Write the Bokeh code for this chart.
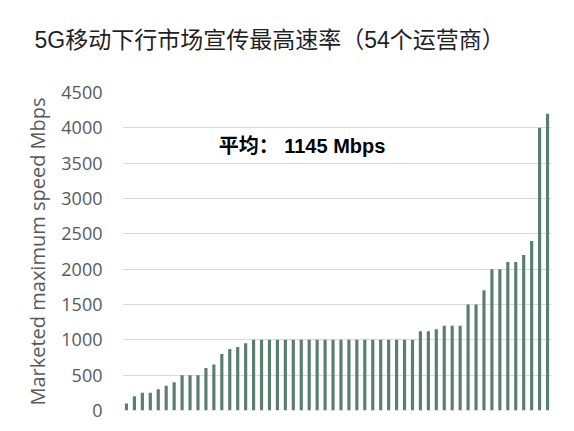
from bokeh.plotting import figure
from bokeh.models import Label, Range1d, FixedTicker, ColumnDataSource, Title
from bokeh.embed import file_html
from bokeh.resources import INLINE

title_text = "5G移动下行市场宣传最高速率（54个运营商）"
y_label = "Marketed maximum speed Mbps"
avg_text = "平均：  1145 Mbps"
y_ticks = [0, 500, 1000, 1500, 2000, 2500, 3000, 3500, 4000, 4500]

operators = list(range(1, 55))
speeds = [100, 200, 250, 250, 300, 350, 400, 500, 500, 500,
          600, 650, 800, 870, 900, 950,
          1000, 1000, 1000, 1000, 1000, 1000, 1000, 1000, 1000, 1000,
          1000, 1000, 1000, 1000, 1000, 1000, 1000, 1000, 1000, 1000, 1000,
          1120, 1120, 1150, 1200, 1200, 1200, 1500, 1500, 1700,
          2000, 2000, 2100, 2100, 2200, 2400, 4000, 4200]

src = ColumnDataSource(dict(x=operators, top=speeds))

p = figure(width=566, height=423, output_backend="svg", toolbar_location=None,
           x_range=Range1d(0.5, 54.5), y_range=Range1d(0, 4500),
           min_border_left=122, min_border_right=15, min_border_top=92,
           min_border_bottom=13)
p.outline_line_color = None
p.background_fill_color = "white"
p.border_fill_color = "white"

p.add_layout(Title(text=" ", text_font_size="21px"), "above")

p.title.text = title_text
p.title.align = "left"
p.title.offset = -88
p.title.text_font = "Liberation Sans, 'Noto Sans CJK SC'"
p.title.text_font_size = "23px"
p.title.text_font_style = "normal"
p.title.text_color = "#1f1f1f"

p.vbar(x="x", top="top", width=0.4, bottom=0, source=src,
       fill_color="#5b7f6f", line_color=None)

p.xaxis.visible = False
p.xgrid.visible = False
p.ygrid.grid_line_color = "#d9d9d9"
p.ygrid.grid_line_width = 1
p.yaxis.ticker = FixedTicker(ticks=y_ticks)
p.yaxis.axis_line_color = None
p.yaxis.major_tick_line_color = None
p.yaxis.minor_tick_line_color = None
p.yaxis.major_tick_out = 0
p.yaxis.major_tick_in = 0
p.yaxis.major_label_standoff = 20
p.yaxis.major_label_text_font = "Open Sans"
p.yaxis.major_label_text_font_size = "18px"
p.yaxis.major_label_text_color = "#595959"
p.yaxis.axis_label = y_label
p.yaxis.axis_label_text_font = "Open Sans"
p.yaxis.axis_label_text_font_size = "20px"
p.yaxis.axis_label_text_font_style = "normal"
p.yaxis.axis_label_text_color = "#595959"
p.yaxis.axis_label_standoff = 7

p.add_layout(Label(x=12.6, y=3736, text=avg_text, text_baseline="middle",
                   text_font="Liberation Sans, 'Noto Sans CJK SC'",
                   text_font_size="20px", text_font_style="bold",
                   text_color="#000000"))

open("out.html", "w").write(file_html(p, INLINE))
